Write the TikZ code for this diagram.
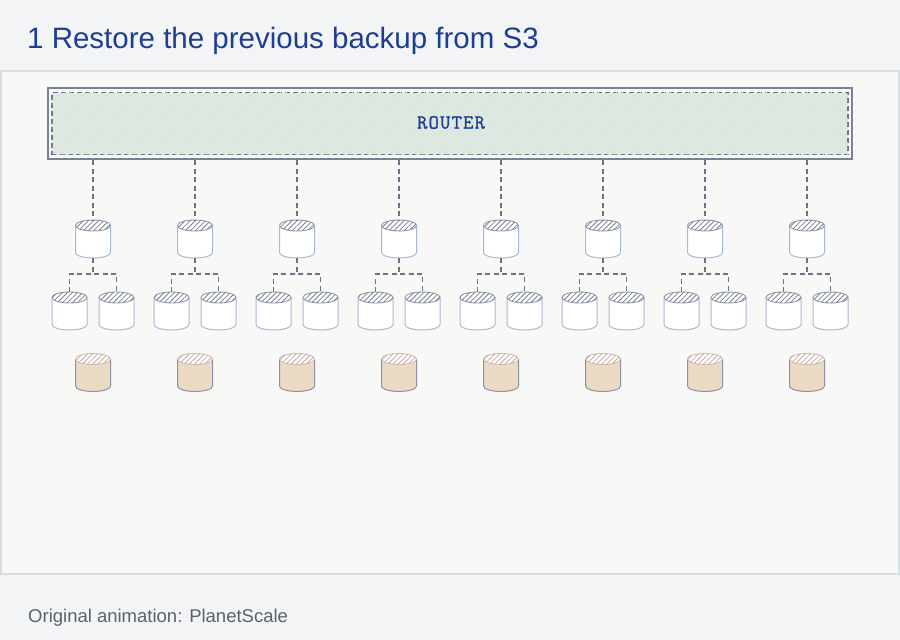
\documentclass[tikz,border=0pt]{standalone}
\usepackage{fontspec}
\setmainfont{Liberation Sans}
\newfontfamily\routerfont[LetterSpace=6, FakeBold=1.3]{Latin Modern Mono}
\usetikzlibrary{calc,patterns.meta}
\definecolor{page}{HTML}{F2F4F5}
\definecolor{panel}{HTML}{F8F8F6}
\definecolor{panelrim}{HTML}{D8DFE0}
\definecolor{title}{HTML}{1E3F8E}
\definecolor{foot}{HTML}{5C6172}
\definecolor{wire}{HTML}{6E7388}
\definecolor{frame}{HTML}{7C8094}
\definecolor{mint}{HTML}{DCE8DF}
\definecolor{mintline}{HTML}{E8F0EA}
\definecolor{rim}{HTML}{A9B8D8}
\definecolor{hatch}{HTML}{7A8093}
\definecolor{sand}{HTML}{EBDAC4}
\definecolor{sandrim}{HTML}{8D92A8}
\definecolor{sandhatch}{HTML}{C9A9A2}

\begin{document}
\begin{tikzpicture}[x=1pt, y=1pt,
    every node/.style={inner sep=0pt},
    link/.style={draw=wire, line width=1.4pt, dash pattern=on 5pt off 3.5pt},
    pics/db/.style n args={3}{code={
        % body, then the hatched lid
        \path[fill=#1, draw=#2, line width=1pt]
            (-17.5,13.5) -- (-17.5,-13.5)
            arc[start angle=180, end angle=360, x radius=17.5pt, y radius=5.5pt]
            -- (17.5,13.5);
        \path[fill=white, draw=#3!80, line width=0.9pt]
            (0,13.5) ellipse[x radius=17.5pt, y radius=5.5pt];
        \path[pattern={Lines[angle=45, distance=3.6pt, line width=0.8pt]}, pattern color=#3]
            (0,13.5) ellipse[x radius=17.5pt, y radius=5.5pt];
        \coordinate (-top) at (0,19);
        \coordinate (-bot) at (0,-19);
    }},
]

% page and panel
\fill[page] (0,0) rectangle (900,-640);
\path[fill=panel, draw=panelrim, line width=1.5pt] (1,-71) rectangle (899,-574);

% heading and credit
\node[anchor=base west, text=title, font=\fontsize{29.5}{32}\selectfont]
    (head) at (27,-48) {1 Restore the previous backup from S3};
\node[anchor=base west, text=foot, font=\fontsize{18.5}{20}\selectfont]
    (credit) at (28,-622) {Original animation: PlanetScale};

% Router
\node[draw=frame, line width=2pt, fill=panel, minimum width=804, minimum height=71]
    (router) at (450,-123.5) {};
\node[draw=wire, line width=1.3pt, dash pattern=on 5pt off 3pt, fill=mint,
    minimum width=796, minimum height=62] (routerin) at (450,-123.5) {};
\path[pattern={Lines[angle=45, distance=4pt, line width=0.6pt]}, pattern color=mintline]
    ($(routerin.south west)+(1,1)$) rectangle ($(routerin.north east)+(-1,-1)$);
\node[font=\routerfont\fontsize{20}{22}\selectfont, text=title]
    (rlabel) at (451,-122.5) {ROUTER};

% Shards: primary, two replicas, backup
\foreach \i in {0,...,7}{
    \pgfmathsetmacro\cx{93+102*\i}
    \pic (p\i) at (\cx,-239) {db={white}{rim}{hatch}};
    \pic (a\i) at (\cx-23.5,-311) {db={white}{rim}{hatch}};
    \pic (b\i) at (\cx+23.5,-311) {db={white}{rim}{hatch}};
    \pic (s\i) at (\cx,-372.5) {db={sand}{sandrim}{sandhatch}};
    \draw[link] (p\i-top |- router.south) -- (p\i-top);
    \draw[link] (p\i-bot) -- ++(0,-16);
    \draw[link] (a\i-top) |- ($(p\i-bot)+(0,-16)$) -| (b\i-top);
}

\end{tikzpicture}
\end{document}
